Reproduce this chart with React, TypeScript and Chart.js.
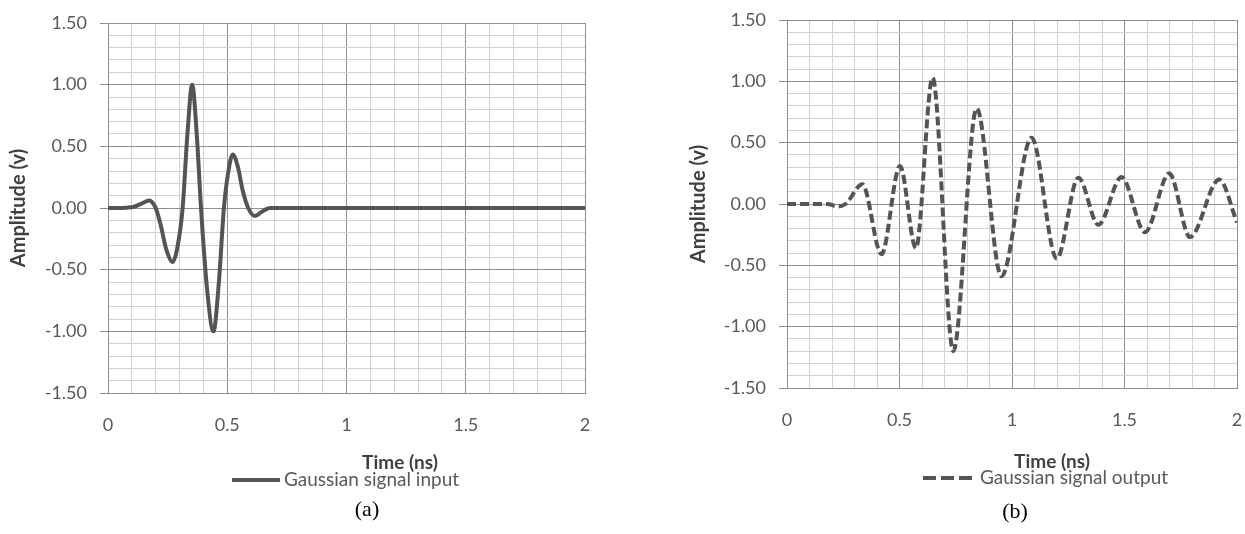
import React, { useEffect, useRef } from "react";
import { Chart, registerables } from "chart.js";

Chart.register(...registerables);

// ---- data ----
const inputTime = [0, 0.08, 0.11, 0.14, 0.173, 0.19, 0.2, 0.22, 0.245, 0.271, 0.29, 0.313, 0.333, 0.353, 0.372, 0.39, 0.415, 0.442, 0.465, 0.486, 0.505, 0.523, 0.545, 0.565, 0.588, 0.616, 0.645, 0.68, 1.0, 1.5, 2.0];
const inputAmp = [0, 0.003, 0.01, 0.035, 0.06, 0.035, 0.0, -0.13, -0.34, -0.44, -0.33, 0.0, 0.6, 1.0, 0.6, 0.0, -0.65, -1.0, -0.6, 0.0, 0.3, 0.434, 0.33, 0.14, 0.0, -0.065, -0.03, 0.0, 0, 0, 0];

const outputTime = [0, 0.18, 0.225, 0.26, 0.335, 0.42, 0.502, 0.573, 0.647, 0.739, 0.843, 0.953, 1.087, 1.199, 1.295, 1.384, 1.487, 1.591, 1.699, 1.791, 1.921, 2.0];
const outputAmp = [0, 0, -0.02, 0.0, 0.16, -0.41, 0.31, -0.36, 1.03, -1.2, 0.78, -0.59, 0.54, -0.445, 0.215, -0.17, 0.22, -0.23, 0.25, -0.27, 0.2, -0.15];

const xTickLabels = ["0", "0.5", "1", "1.5", "2"];
const yTickLabels = ["-1.50", "-1.00", "-0.50", "0.00", "0.50", "1.00", "1.50"];
const xAxisTitle = "Time (ns)";
const yAxisTitle = "Amplitude (v)";
const inputLabel = "Gaussian signal input";
const outputLabel = "Gaussian signal output";
const captions = ["(a)", "(b)"];

const FONT = "Lato, 'Noto Sans', sans-serif";
const LINE_COLOR = "#545454";
const MAJOR = "#8f8f8f";
const MINOR = "#d2d2d2";

const isMajor = (v: number) => Math.abs(v * 2 - Math.round(v * 2)) < 1e-6;

const bottomPlugin = {
  id: "excelBottom",
  afterDraw(chart: any, _args: any, opts: any) {
    const ctx = chart.ctx;
    const ds = chart.data.datasets[0];
    ctx.save();
    ctx.strokeStyle = ds.borderColor;
    ctx.lineWidth = ds.borderWidth;
    ctx.setLineDash(opts.legendDash || []);
    ctx.beginPath();
    ctx.moveTo(opts.legendX0, opts.legendY);
    ctx.lineTo(opts.legendX1, opts.legendY);
    ctx.stroke();
    ctx.setLineDash([]);

    ctx.font = `${opts.legendSize}px ${FONT}`;
    ctx.fillStyle = "#595959";
    ctx.textAlign = "left";
    ctx.textBaseline = "middle";
    ctx.fillText(ds.label, opts.legendTextX, opts.legendY);

    ctx.font = `bold ${opts.titleSize}px ${FONT}`;
    ctx.fillStyle = "#404040";
    ctx.textAlign = "center";
    ctx.fillText(opts.title, opts.titleX, opts.titleY);
    ctx.restore();
  },
};

type Cfg = {
  times: number[];
  amps: number[];
  label: string;
  dash: number[];
  width: number;
  height: number;
  yAxisWidth: number;
  padTop: number;
  padRight: number;
  plotBottom: number;
  bottom: any;
};

function makeConfig(c: Cfg): any {
  const pts = c.times.map((t, i) => ({ x: t, y: c.amps[i] }));
  const gridColor = (ctx: any) => (ctx.tick && isMajor(ctx.tick.value) ? MAJOR : MINOR);
  const tickColor = (ctx: any) => (ctx.tick && isMajor(ctx.tick.value) ? MAJOR : "rgba(0,0,0,0)");
  const zeroPad = (scale: any) => {
    scale.paddingLeft = 0;
    scale.paddingRight = 0;
    scale.paddingTop = 0;
    scale.paddingBottom = 0;
  };
  return {
    type: "line",
    data: {
      datasets: [
        {
          label: c.label,
          data: pts,
          borderColor: LINE_COLOR,
          borderWidth: 4,
          borderDash: c.dash,
          pointRadius: 0,
          fill: false,
          cubicInterpolationMode: "monotone",
        },
      ],
    },
    options: {
      animation: false,
      responsive: false,
      events: [],
      layout: { padding: { top: c.padTop, right: c.padRight, left: 0, bottom: 0 } },
      plugins: {
        legend: { display: false },
        tooltip: { enabled: false },
        excelBottom: c.bottom,
      },
      scales: {
        x: {
          type: "linear",
          min: 0,
          max: 2,
          grid: { color: gridColor, drawTicks: false, lineWidth: 1 },
          border: { display: true, color: MAJOR },
          ticks: {
            stepSize: 0.1,
            autoSkip: false,
            maxRotation: 0,
            padding: 21,
            color: "#595959",
            font: { family: FONT, size: 18 },
            callback: (v: number) => (isMajor(v) ? xTickLabels[Math.round(v * 2)] : ""),
          },
          afterFit: (scale: any) => {
            scale.height = c.height - c.plotBottom;
            zeroPad(scale);
          },
        },
        y: {
          type: "linear",
          min: -1.5,
          max: 1.5,
          grid: { color: gridColor, tickColor: tickColor, tickLength: 8, lineWidth: 1 },
          border: { display: true, color: MAJOR },
          title: {
            display: true,
            text: yAxisTitle,
            color: "#404040",
            font: { family: FONT, size: 20, weight: "bold" },
            padding: { top: 7, bottom: 0 },
          },
          ticks: {
            stepSize: 0.1,
            autoSkip: false,
            padding: 13,
            color: "#595959",
            font: { family: FONT, size: 18 },
            callback: (v: number) => (isMajor(v) ? yTickLabels[Math.round(v * 2) + 3] : ""),
          },
          afterFit: (scale: any) => {
            scale.width = c.yAxisWidth;
            zeroPad(scale);
          },
        },
      },
    },
    plugins: [bottomPlugin],
  };
}

function ChartPanel({ cfg, left }: { cfg: Cfg; left: number }) {
  const ref = useRef<HTMLCanvasElement | null>(null);
  useEffect(() => {
    if (!ref.current) return;
    const chart = new Chart(ref.current, makeConfig(cfg));
    return () => chart.destroy();
  }, []);
  return (
    <canvas
      ref={ref}
      width={cfg.width}
      height={cfg.height}
      style={{ position: "absolute", left, top: 0, width: cfg.width, height: cfg.height }}
    />
  );
}

const leftCfg: Cfg = {
  times: inputTime,
  amps: inputAmp,
  label: inputLabel,
  dash: [],
  width: 620,
  height: 534,
  yAxisWidth: 108,
  padTop: 23,
  padRight: 35,
  plotBottom: 393,
  bottom: {
    title: xAxisTitle,
    titleSize: 19,
    titleX: 400,
    titleY: 463,
    legendX0: 232,
    legendX1: 280,
    legendY: 480,
    legendTextX: 284,
    legendSize: 19,
    legendDash: [],
  },
};

const rightCfg: Cfg = {
  times: outputTime,
  amps: outputAmp,
  label: outputLabel,
  dash: [9, 4],
  width: 565,
  height: 534,
  yAxisWidth: 107,
  padTop: 20,
  padRight: 8,
  plotBottom: 388,
  bottom: {
    title: xAxisTitle,
    titleSize: 19,
    titleX: 372,
    titleY: 462,
    legendX0: 243,
    legendX1: 292,
    legendY: 478,
    legendTextX: 300,
    legendSize: 19,
    legendDash: [13, 5],
  },
};

const captionStyle = (x: number, y: number): React.CSSProperties => ({
  position: "absolute",
  left: x,
  top: y,
  transform: "translate(-50%, -50%)",
  fontFamily: "'Liberation Serif', 'Times New Roman', serif",
  fontSize: 22,
  color: "#000",
  whiteSpace: "nowrap",
});

export default function App() {
  return (
    <div
      style={{
        position: "fixed",
        left: 0,
        top: 0,
        width: 1245,
        height: 534,
        background: "#fff",
        overflow: "hidden",
      }}
    >
      <ChartPanel cfg={leftCfg} left={0} />
      <ChartPanel cfg={rightCfg} left={680} />
      <div style={captionStyle(367, 509)}>{captions[0]}</div>
      <div style={captionStyle(1015, 511)}>{captions[1]}</div>
    </div>
  );
}
